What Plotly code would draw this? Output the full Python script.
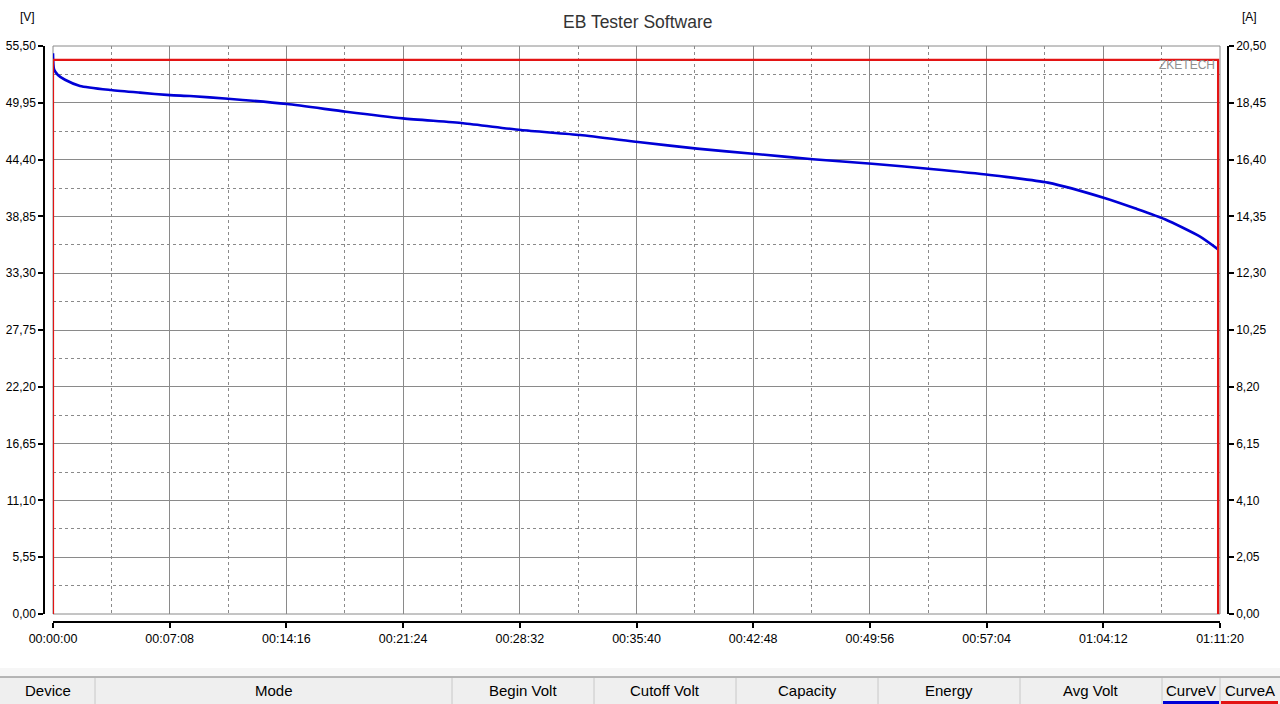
import plotly.graph_objects as go

# ---------------- data ----------------
time_s = [0, 4, 18, 44, 99, 213, 319, 429, 502, 642, 858, 1075, 1284, 1504, 1716,
          1933, 2146, 2362, 2578, 2787, 3004, 3220, 3436, 3649, 3862, 3968, 4078,
          4207, 4273]
volt = [54.8, 53.2, 52.67, 52.2, 51.6, 51.2, 50.94, 50.7, 50.61, 50.35, 49.83,
        49.08, 48.43, 47.95, 47.29, 46.80, 46.12, 45.47, 44.95, 44.43, 44.0,
        43.48, 42.9, 42.15, 40.6, 39.64, 38.57, 36.87, 35.63]

cur_time = [0, 0, 4273, 4273]
cur_amp = [0.0, 20.0, 20.0, 0.0]

x_tickvals = [0, 428, 856, 1284, 1712, 2140, 2568, 2996, 3424, 3852, 4280]
x_ticktext = ["00:00:00", "00:07:08", "00:14:16", "00:21:24", "00:28:32", "00:35:40",
              "00:42:48", "00:49:56", "00:57:04", "01:04:12", "01:11:20"]
x_minor = [214, 642, 1070, 1498, 1926, 2354, 2782, 3210, 3638, 4066]

v_tickvals = [0, 5.55, 11.10, 16.65, 22.20, 27.75, 33.30, 38.85, 44.40, 49.95, 55.50]
v_ticktext = ["0,00", "5,55", "11,10", "16,65", "22,20", "27,75", "33,30", "38,85",
              "44,40", "49,95", "55,50"]
v_minor = [2.775, 8.325, 13.875, 19.425, 24.975, 30.525, 36.075, 41.625, 47.175, 52.725]

a_tickvals = [0, 2.05, 4.10, 6.15, 8.20, 10.25, 12.30, 14.35, 16.40, 18.45, 20.50]
a_ticktext = ["0,00", "2,05", "4,10", "6,15", "8,20", "10,25", "12,30", "14,35",
              "16,40", "18,45", "20,50"]

header_labels = ["Device", "Mode", "Begin Volt", "Cutoff Volt", "Capacity", "Energy",
                 "Avg Volt", "CurveV", "CurveA"]
header_edges = [0, 95, 452, 594, 736, 878, 1020, 1162, 1220, 1280]

# ---------------- layout helpers ----------------
W, H = 1280, 704
def fx(p):
    return p / W
def fy(p):
    return 1 - p / H

FONT = "Liberation Sans, Arial, sans-serif"
GRID = "#8a8a8a"
DASH = "3px,3px"

fig = go.Figure()
fig.add_trace(go.Scatter(x=cur_time, y=cur_amp, yaxis="y2", mode="lines",
                         line=dict(color="#e31414", width=2.2), cliponaxis=False,
                         hoverinfo="skip"))
fig.add_trace(go.Scatter(x=time_s, y=volt, mode="lines",
                         line=dict(color="#0000d6", width=2.6, shape="spline", smoothing=0.6),
                         hoverinfo="skip"))

tickfont = dict(family=FONT, size=12, color="#000000")
xtickfont = dict(family=FONT, size=12.5, color="#000000")

fig.update_layout(
    template="none",
    width=W, height=H,
    margin=dict(l=0, r=0, t=0, b=0, pad=0),
    paper_bgcolor="#ffffff",
    plot_bgcolor="#ffffff",
    showlegend=False,
    xaxis=dict(
        domain=[fx(53), fx(1220)], range=[0, 4280], anchor="free", position=fy(622),
        tickmode="array", tickvals=x_tickvals, ticktext=x_ticktext,
        ticks="outside", ticklen=5, tickwidth=1.5, tickcolor="#000000",
        showline=True, linecolor="#000000", linewidth=1.5,
        showgrid=True, gridcolor=GRID, gridwidth=1, zeroline=False,
        minor=dict(tickmode="array", tickvals=x_minor, showgrid=True, gridcolor=GRID,
                   griddash=DASH, gridwidth=1, ticks=""),
        tickfont=xtickfont, automargin=False, fixedrange=True,
    ),
    yaxis=dict(
        domain=[fy(614), fy(46)], range=[0, 55.5], anchor="free", position=fx(44),
        side="left",
        tickmode="array", tickvals=v_tickvals, ticktext=v_ticktext,
        ticks="outside", ticklen=5, tickwidth=1.5, tickcolor="#000000",
        showline=True, linecolor="#000000", linewidth=1.5,
        showgrid=True, gridcolor=GRID, gridwidth=1, zeroline=False,
        minor=dict(tickmode="array", tickvals=v_minor, showgrid=True, gridcolor=GRID,
                   griddash=DASH, gridwidth=1, ticks=""),
        tickfont=tickfont, automargin=False, fixedrange=True,
    ),
    yaxis2=dict(
        domain=[fy(614), fy(46)], range=[0, 20.5], anchor="free", position=fx(1228),
        overlaying="y", side="right",
        tickmode="array", tickvals=a_tickvals, ticktext=a_ticktext,
        ticks="outside", ticklen=5, tickwidth=1.5, tickcolor="#000000",
        showline=True, linecolor="#000000", linewidth=1.5,
        showgrid=False, zeroline=False,
        tickfont=tickfont, automargin=False, fixedrange=True,
    ),
)

shapes = []
# plot frame
shapes.append(dict(type="rect", xref="paper", yref="paper", x0=fx(53), x1=fx(1220),
                   y0=fy(614), y1=fy(46), line=dict(color=GRID, width=1), layer="below"))
# bottom header bar
shapes.append(dict(type="rect", xref="paper", yref="paper", x0=0, x1=1, y0=0, y1=fy(677),
                   fillcolor="#efefef", line=dict(width=0), layer="above"))
shapes.append(dict(type="rect", xref="paper", yref="paper", x0=0, x1=1, y0=fy(677), y1=fy(668),
                   fillcolor="#f6f6f6", line=dict(width=0), layer="above"))
shapes.append(dict(type="line", xref="paper", yref="paper", x0=0, x1=1, y0=fy(677), y1=fy(677),
                   line=dict(color="#a0a0a0", width=1.5), layer="above"))
for e in header_edges[1:-1]:
    shapes.append(dict(type="line", xref="paper", yref="paper", x0=fx(e), x1=fx(e),
                       y0=0, y1=fy(678), line=dict(color="#c8c8c8", width=1), layer="above"))
# colored underlines of CurveV / CurveA tabs
shapes.append(dict(type="rect", xref="paper", yref="paper", x0=fx(1163), x1=fx(1219),
                   y0=0, y1=fy(701), fillcolor="#0000d6", line=dict(width=0), layer="above"))
shapes.append(dict(type="rect", xref="paper", yref="paper", x0=fx(1221), x1=fx(1278),
                   y0=0, y1=fy(701), fillcolor="#e31414", line=dict(width=0), layer="above"))

annotations = [
    dict(text="EB Tester Software", x=fx(637), y=fy(22), xref="paper", yref="paper",
         showarrow=False, font=dict(family=FONT, size=17.5, color="#333333"),
         xanchor="center", yanchor="middle"),
    dict(text="[V]", x=fx(27), y=fy(17), xref="paper", yref="paper", showarrow=False,
         font=dict(family=FONT, size=12, color="#000000"), xanchor="center", yanchor="middle"),
    dict(text="[A]", x=fx(1249), y=fy(17), xref="paper", yref="paper", showarrow=False,
         font=dict(family=FONT, size=12, color="#000000"), xanchor="center", yanchor="middle"),
    dict(text="ZKETECH", x=fx(1217), y=fy(65), xref="paper", yref="paper", showarrow=False,
         font=dict(family=FONT, size=12, color="#8f8f8f"), xanchor="right", yanchor="middle"),
]
for i, lab in enumerate(header_labels):
    cx = (header_edges[i] + header_edges[i + 1]) / 2
    annotations.append(dict(text=lab, x=fx(cx), y=fy(690), xref="paper", yref="paper",
                            showarrow=False, font=dict(family=FONT, size=15, color="#000000"),
                            xanchor="center", yanchor="middle"))

fig.update_layout(shapes=shapes, annotations=annotations)
fig.write_html("out.html", config={"displayModeBar": False},
               post_script="document.body.style.margin='0';document.body.style.overflow='hidden';")
